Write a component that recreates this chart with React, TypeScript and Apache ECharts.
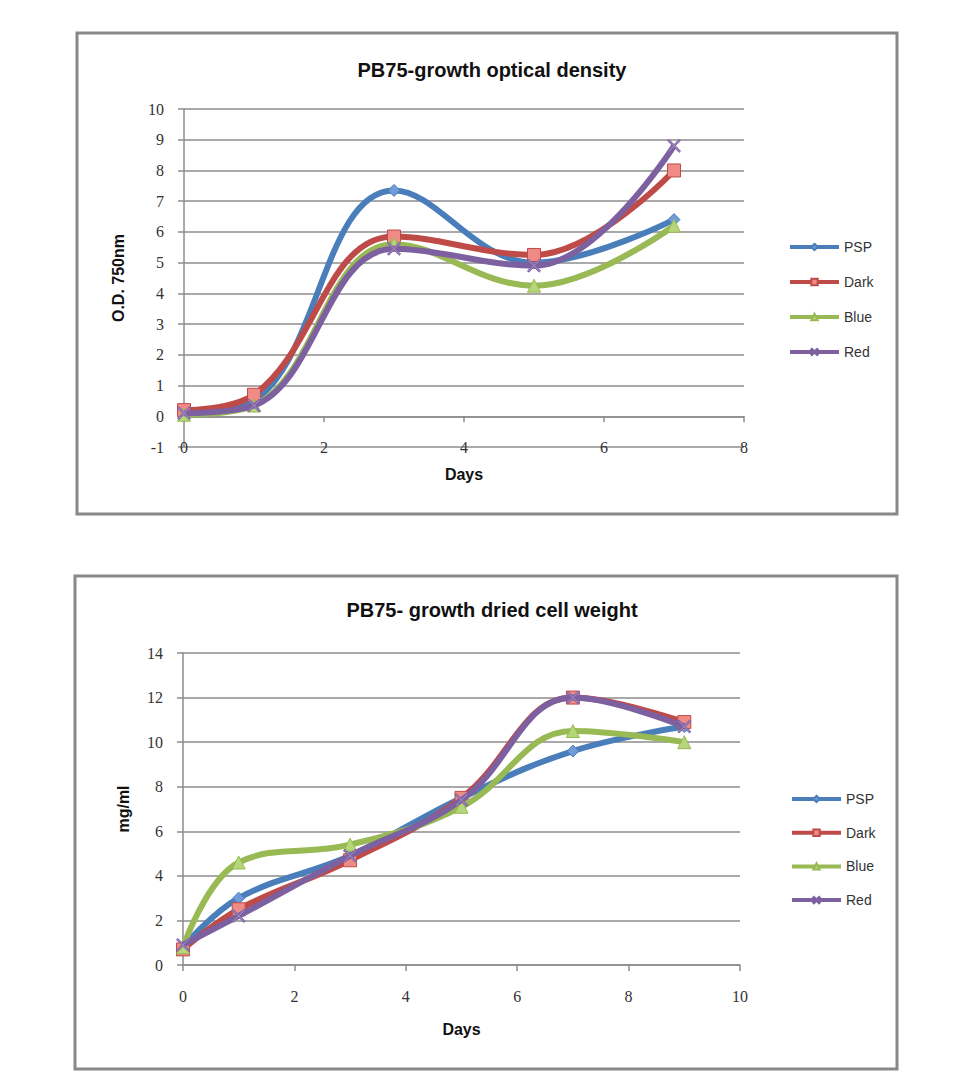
import React, { useEffect, useRef } from "react";
import * as echarts from "echarts";

const seriesNames = ["PSP", "Dark", "Blue", "Red"];
const seriesColors = ["#4A7EBB", "#BE4B48", "#98B954", "#7D60A0"];
const markerFills = ["#6F9BD6", "#F08A86", "#B6D67A", "#9C82BF"];

// Chart 1: optical density
const odDays = [0, 1, 3, 5, 7];
const odPSP = [0.1, 0.5, 7.35, 5.0, 6.4];
const odDark = [0.2, 0.7, 5.85, 5.25, 8.0];
const odBlue = [0.05, 0.35, 5.6, 4.25, 6.2];
const odRed = [0.1, 0.35, 5.45, 4.9, 8.8];

// Chart 2: dried cell weight
const dwDays = [0, 1, 3, 5, 7, 9];
const dwPSP = [0.8, 3.0, 4.9, 7.5, 9.6, 10.7];
const dwDark = [0.7, 2.5, 4.7, 7.5, 12.0, 10.9];
const dwBlue = [0.8, 4.6, 5.4, 7.1, 10.5, 10.0];
const dwRed = [0.9, 2.2, 4.9, 7.4, 12.0, 10.7];

const xSymbol =
  "path://M1,0 L5,4 L9,0 L10,1 L6,5 L10,9 L9,10 L5,6 L1,10 L0,9 L4,5 L0,1 Z";
const symbols = ["diamond", "rect", "triangle", xSymbol];
const symbolSizes = [12, 13, 13, 13];

const pair = (xs: number[], ys: number[]) => xs.map((x, i) => [x, ys[i]]);

const serifFont = "Liberation Serif";
const sansFont = "Liberation Sans";

function buildSeries(
  xs: number[],
  sets: number[][],
  gridIndex: number
): any[] {
  return sets.map((ys, i) => ({
    name: seriesNames[i],
    type: "line",
    xAxisIndex: gridIndex,
    yAxisIndex: gridIndex,
    data: pair(xs, ys),
    smooth: 0.4,
    symbol: symbols[i],
    symbolSize: symbolSizes[i],
    lineStyle: { color: seriesColors[i], width: 6 },
    itemStyle: {
      color: markerFills[i],
      borderColor: seriesColors[i],
      borderWidth: 1,
    },
    z: 2 + i,
  }));
}

const gridLine = { show: true, lineStyle: { color: "#8c8c8c", width: 1.5 } };
const axisLineStyle = { color: "#8c8c8c", width: 1.5 };
const tickLabel = { fontFamily: serifFont, fontSize: 16, color: "#333" };
const axisTitle = {
  fontFamily: sansFont,
  fontSize: 16,
  fontWeight: "bold" as const,
  color: "#111",
};
const legendText = { fontFamily: sansFont, fontSize: 14, color: "#333" };

export default function App() {
  const ref = useRef<HTMLDivElement>(null);

  useEffect(() => {
    if (!ref.current) return;
    const chart = echarts.init(ref.current, undefined, { renderer: "svg" });
    const option: any = {
      animation: false,
      backgroundColor: "#ffffff",
      title: [
        {
          text: "PB75-growth optical density",
          left: 487,
          top: 55,
          textAlign: "center",
          textStyle: {
            fontFamily: sansFont,
            fontSize: 20,
            fontWeight: "bold",
            color: "#111",
          },
        },
        {
          text: "PB75- growth dried cell weight",
          left: 487,
          top: 595,
          textAlign: "center",
          textStyle: {
            fontFamily: sansFont,
            fontSize: 20,
            fontWeight: "bold",
            color: "#111",
          },
        },
      ],
      legend: [
        {
          data: seriesNames,
          orient: "vertical",
          left: 783,
          top: 235,
          itemWidth: 49,
          itemHeight: 8,
          itemGap: 21,
          lineStyle: { width: 4 },
          textStyle: legendText,
        },
        {
          data: seriesNames,
          orient: "vertical",
          left: 785,
          top: 787,
          itemWidth: 49,
          itemHeight: 8,
          itemGap: 19.7,
          lineStyle: { width: 4 },
          textStyle: legendText,
        },
      ],
      grid: [
        { left: 184, top: 109, width: 560, height: 338 },
        { left: 183, top: 653, width: 557, height: 312 },
      ],
      xAxis: [
        {
          gridIndex: 0,
          type: "value",
          min: 0,
          max: 8,
          interval: 2,
          name: "Days",
          nameLocation: "middle",
          nameGap: 19,
          nameTextStyle: axisTitle,
          axisLine: { show: true, onZero: true, lineStyle: axisLineStyle },
          axisTick: { show: true, length: 6, lineStyle: axisLineStyle },
          axisLabel: { ...tickLabel, margin: -8 },
          splitLine: { show: false },
        },
        {
          gridIndex: 1,
          type: "value",
          min: 0,
          max: 10,
          interval: 2,
          name: "Days",
          nameLocation: "middle",
          nameGap: 56,
          nameTextStyle: axisTitle,
          axisLine: { show: true, lineStyle: axisLineStyle },
          axisTick: { show: true, length: 6, lineStyle: axisLineStyle },
          axisLabel: { ...tickLabel, margin: 23 },
          splitLine: { show: false },
        },
      ],
      yAxis: [
        {
          gridIndex: 0,
          type: "value",
          min: -1,
          max: 10,
          interval: 1,
          name: "O.D. 750nm",
          nameLocation: "middle",
          nameGap: 58,
          nameTextStyle: axisTitle,
          axisLine: { show: true, lineStyle: axisLineStyle },
          axisTick: { show: true, length: 6, lineStyle: axisLineStyle },
          axisLabel: { ...tickLabel, margin: 20 },
          splitLine: gridLine,
        },
        {
          gridIndex: 1,
          type: "value",
          min: 0,
          max: 14,
          interval: 2,
          name: "mg/ml",
          nameLocation: "middle",
          nameGap: 52,
          nameTextStyle: axisTitle,
          axisLine: { show: true, lineStyle: axisLineStyle },
          axisTick: { show: true, length: 6, lineStyle: axisLineStyle },
          axisLabel: { ...tickLabel, margin: 20 },
          splitLine: gridLine,
        },
      ],
      graphic: [
        {
          type: "rect",
          shape: { x: 77, y: 33, width: 820, height: 481 },
          style: { fill: "none", stroke: "#888888", lineWidth: 3 },
          z: -1,
        },
        {
          type: "rect",
          shape: { x: 75, y: 576, width: 822, height: 493 },
          style: { fill: "none", stroke: "#888888", lineWidth: 3 },
          z: -1,
        },
      ],
      series: [
        ...buildSeries(odDays, [odPSP, odDark, odBlue, odRed], 0),
        ...buildSeries(dwDays, [dwPSP, dwDark, dwBlue, dwRed], 1),
      ],
    };
    chart.setOption(option);
    return () => chart.dispose();
  }, []);

  return (
    <div
      ref={ref}
      style={{
        position: "fixed",
        left: 0,
        top: 0,
        width: 956,
        height: 1079,
        background: "#fff",
      }}
    />
  );
}
